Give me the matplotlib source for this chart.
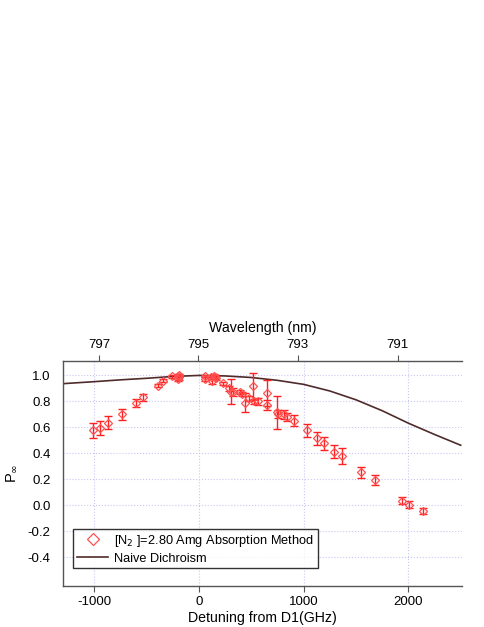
import numpy as np
from matplotlib import pyplot as plt

plt.rcParams["font.family"] = ["Liberation Sans", "DejaVu Sans"]
plt.rcParams["axes.unicode_minus"] = False

# measured polarization vs detuning from D1 (GHz)
detuning = [-1009, -943, -872, -733, -603, -539, -393, -349, -263,
            -205, -200, -195, -190,
            55, 60, 115, 125, 140, 150, 165, 230, 290, 302, 320,
            388, 413, 438, 476, 514, 524, 566, 645, 645, 740, 752,
            810, 842, 905, 1032, 1130, 1197, 1292, 1362, 1552, 1686,
            1940, 2003, 2137]
p_inf = [0.579, 0.592, 0.636, 0.700, 0.790, 0.830, 0.922, 0.959, 0.992,
         0.995, 0.975, 1.000, 0.985,
         0.995, 0.975, 0.985, 0.960, 0.995, 0.985, 0.980, 0.940, 0.900, 0.876, 0.870,
         0.870, 0.856, 0.790, 0.825, 0.915, 0.800, 0.800, 0.864, 0.773, 0.715, 0.705,
         0.700, 0.680, 0.652, 0.576, 0.516, 0.476, 0.412, 0.378, 0.253, 0.192,
         0.036, 0.005, -0.046]
p_err = [0.058, 0.054, 0.052, 0.043, 0.032, 0.030, 0.015, 0.012, 0.010,
         0.015, 0.020, 0.012, 0.018,
         0.010, 0.015, 0.012, 0.025, 0.015, 0.015, 0.012, 0.012, 0.020, 0.094, 0.030,
         0.015, 0.015, 0.074, 0.020, 0.107, 0.020, 0.025, 0.100, 0.040, 0.130, 0.030,
         0.035, 0.030, 0.040, 0.050, 0.050, 0.050, 0.050, 0.060, 0.045, 0.040,
         0.030, 0.025, 0.025]

# naive dichroism prediction
curve_x = [-1290, -1000, -750, -500, -250, 0, 250, 500, 750, 1000,
           1250, 1500, 1750, 2000, 2250, 2500]
curve_y = [0.937, 0.952, 0.966, 0.978, 0.992, 1.0, 0.996, 0.984, 0.962, 0.931,
           0.880, 0.812, 0.728, 0.632, 0.545, 0.462]

wl_ticks = [797, 795, 793, 791]

C_NM_GHZ = 299792458.0
NU0 = 377107.4  # D1 frequency, GHz


def wl_to_det(w):
    w = np.asarray(w, dtype=float)
    return C_NM_GHZ / w - NU0


fig = plt.figure(figsize=(4.85, 6.27), dpi=100)
ax = fig.add_axes([0.130, 0.066, 0.822, 0.358])

grid_c = "#c8c8f4"
for x in [-1000, 0, 1000, 2000]:
    ax.axvline(x, color=grid_c, lw=0.8, ls=":", zorder=0)
for y in np.arange(-0.4, 1.01, 0.2):
    ax.axhline(y, color=grid_c, lw=0.8, ls=":", zorder=0)

line, = ax.plot(curve_x, curve_y, color="#4f2b2b", lw=1.2, zorder=2)
ax.errorbar(detuning, p_inf, yerr=p_err, fmt="none", ecolor="#ff2020",
            elinewidth=1.0, capsize=3, capthick=1.0, zorder=3)
pts, = ax.plot(detuning, p_inf, ls="none", marker="D", ms=4.5, mfc="none",
               mec="#ff5050", mew=0.9, zorder=4)

yt = [-0.4, -0.2, 0.0, 0.2, 0.4, 0.6, 0.8, 1.0]
ax.set_xlim(-1300, 2510)
ax.set_ylim(-0.62, 1.11)
ax.set_xticks([-1000, 0, 1000, 2000])
ax.set_yticks(yt)
ax.set_yticklabels([f"{v:.1f}" for v in yt])
ax.tick_params(axis="y", length=0, labelsize=9.5, pad=9)
ax.tick_params(axis="x", direction="out", length=4, labelsize=9.5, color="#555555")
ax.spines["right"].set_visible(False)
ax.spines["top"].set_visible(False)
for s in ["left", "bottom"]:
    ax.spines[s].set_color("#555555")
    ax.spines[s].set_linewidth(1.0)

ax.set_xlabel("Detuning from D1(GHz)", fontsize=10.2, labelpad=2)
ax.set_ylabel(r"P$_{\infty}$", fontsize=10.5, labelpad=6)

# wavelength axis on top
top = ax.twiny()
top.set_xlim(ax.get_xlim())
top.set_xticks(wl_to_det(wl_ticks))
top.set_xticklabels([str(w) for w in wl_ticks])
top.tick_params(axis="x", direction="out", length=4, labelsize=9.5, color="#555555")
for s in ["left", "right", "bottom"]:
    top.spines[s].set_visible(False)
top.spines["top"].set_color("#555555")
top.spines["top"].set_linewidth(1.0)
top.set_xlabel("Wavelength (nm)", fontsize=10.2, labelpad=5)

leg = ax.legend([pts, line],
                [r"[N$_2$ ]=2.80 Amg Absorption Method", "Naive Dichroism"],
                loc="lower left", bbox_to_anchor=(0.026, 0.077),
                frameon=True, fancybox=False, fontsize=9.2,
                handlelength=2.4, borderpad=0.3, labelspacing=0.3,
                handletextpad=0.5, borderaxespad=0, markerscale=1.3)
leg.get_frame().set_edgecolor("black")
leg.get_frame().set_linewidth(1.0)

fig.savefig("out.png", dpi=100)
plt.close(fig)
